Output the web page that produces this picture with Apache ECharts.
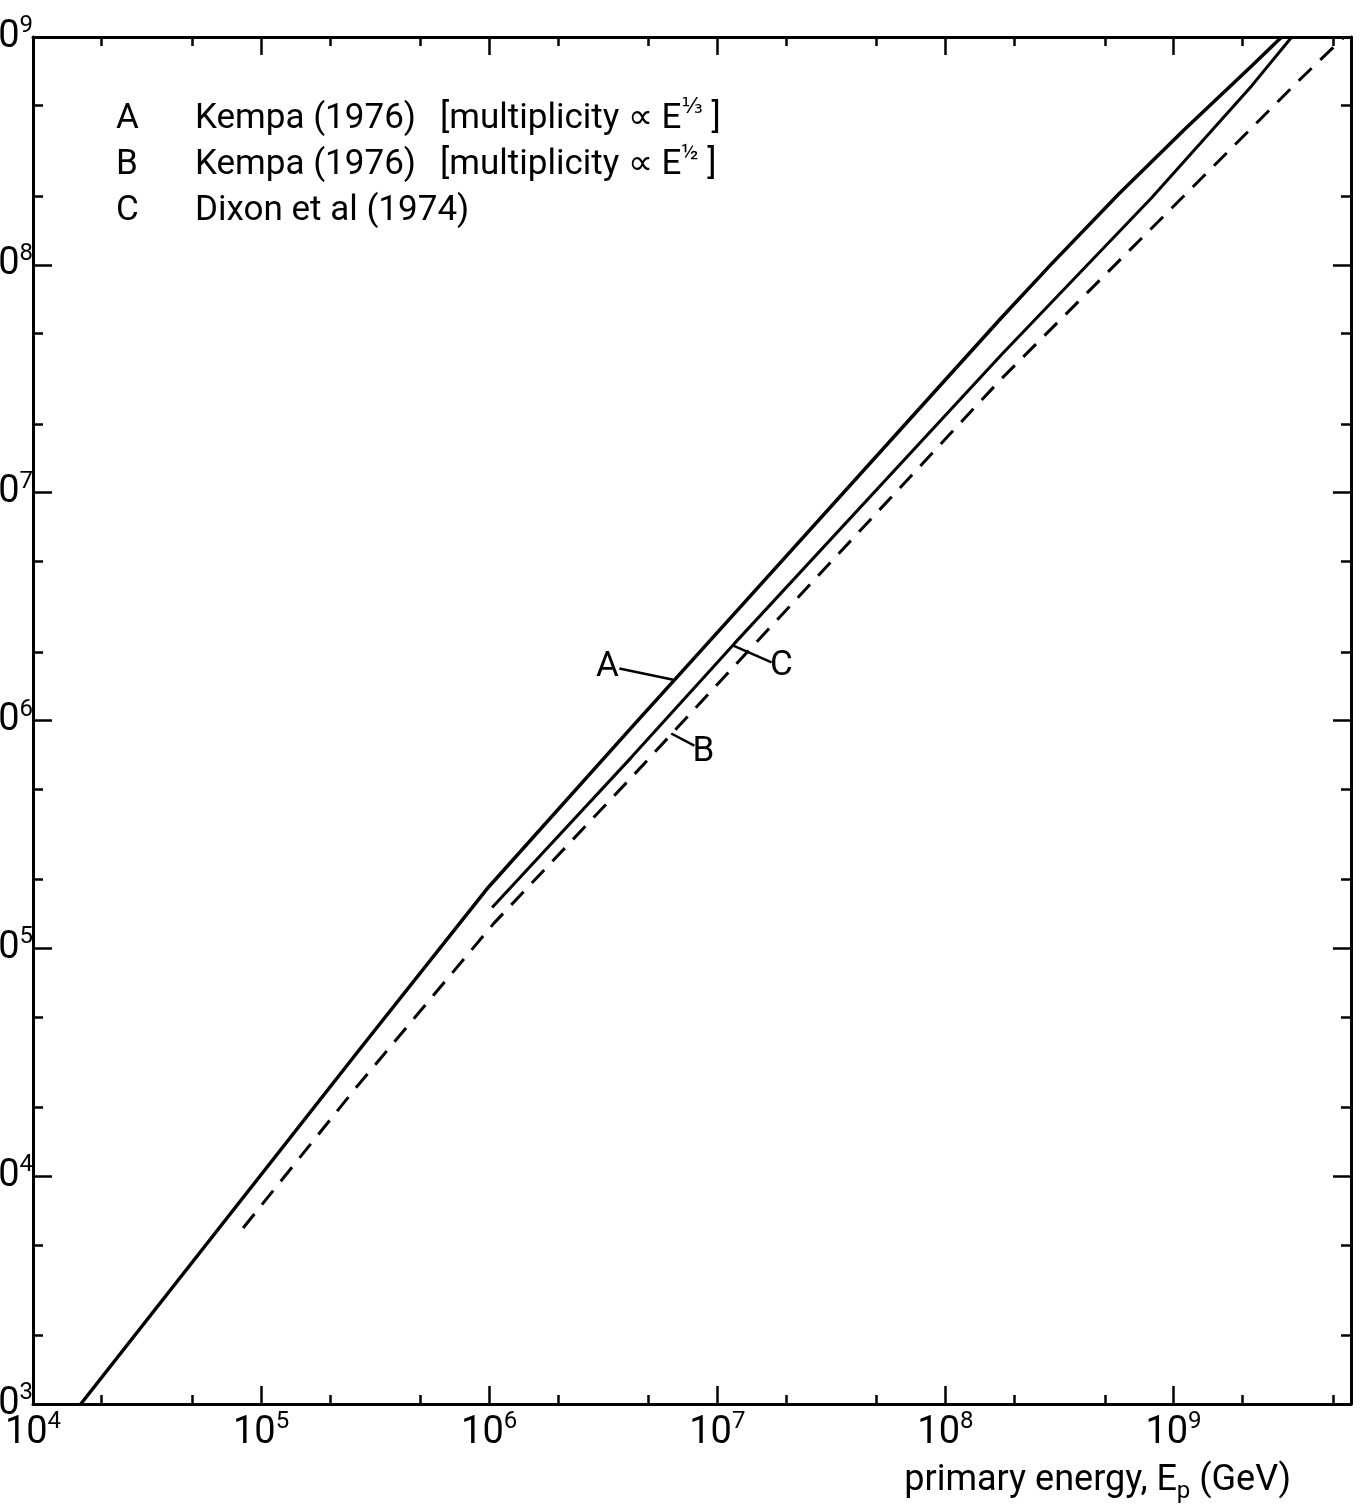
<!DOCTYPE html>
<html><head><meta charset="utf-8">
<script src="https://cdn.jsdelivr.net/npm/echarts@6/dist/echarts.min.js"></script>
<style>html,body{margin:0;padding:0;background:#fff}#c{width:1367px;height:1508px}</style>
</head><body><div id="c"></div>
<script>
// ---- data (primary energy in GeV vs. count) ----
const energyA = [1.62e4, 2.75e5, 9.9e5, 4.2e6, 8.5e6, 1.0e8, 1.76e8, 2.92e8, 5.74e8, 1.12e9, 2.2e9, 2.98e9];
const countA  = [1.0e3, 3.68e4, 1.85e5, 9.3e5, 2.03e6, 3.13e7, 5.86e7, 1.01e8, 2.04e8, 3.94e8, 7.46e8, 1.0e9];
const energyB = [8.34e4, 2.61e5, 1.05e6, 4.2e6, 1.41e7, 1.76e8, 3.64e9, 5.6e9];
const countB  = [5.92e3, 2.45e4, 1.29e5, 5.62e5, 2.09e6, 3.16e7, 6.61e8, 1.0e9];
const energyC = [1.03e6, 4.2e6, 1.19e7, 1.76e8, 8.02e8, 2.2e9, 3.3e9];
const countC  = [1.51e5, 6.89e5, 2.18e6, 4.03e7, 1.97e8, 6.1e8, 1.0e9];

const xRange = [1e4, 6e9];
const yRange = [1e3, 1e9];
const xMajorTicks = [1e4, 1e5, 1e6, 1e7, 1e8, 1e9];
const xMinorTicks = [2e4, 5e4, 2e5, 5e5, 2e6, 5e6, 2e7, 5e7, 2e8, 5e8, 2e9, 5e9];
const yMajorTicks = [1e3, 1e4, 1e5, 1e6, 1e7, 1e8, 1e9];
const yMinorTicks = [2e3, 5e3, 2e4, 5e4, 2e5, 5e5, 2e6, 5e6, 2e7, 5e7, 2e8, 5e8];

const legendKeys  = ['A', 'B', 'C'];
const legendNames = ['Kempa (1976)', 'Kempa (1976)', 'Dixon et al (1974)'];
const legendNotes = [['[multiplicity \u221D E', '\u2153', ' ]'], ['[multiplicity \u221D E', '\u00BD', ' ]'], null];

// curve labels: [label text, label position, leader start, leader end] in data units
const labelA = ['A', [3.3e6, 1.71e6], [3.72e6, 1.69e6], [6.41e6, 1.51e6]];
const labelB = ['B', [8.69e6, 7.24e5], [7.93e6, 7.76e5], [6.28e6, 8.77e5]];
const labelC = ['C', [1.91e7, 1.73e6], [1.73e7, 1.80e6], [1.175e7, 2.13e6]];

const xName = ['primary energy, E', 'p', ' (GeV)'];

// ---- build ----
const FONT = 'Roboto, "DejaVu Sans", sans-serif';
const zip = (a, b) => a.map((v, i) => [v, b[i]]);
function powLabel(v) { return '{b|10}{s|' + Math.round(Math.log10(v)) + '}'; }
const tickRich = {
  b: {fontSize: 38, fontFamily: FONT, color: '#000', lineHeight: 46},
  s: {fontSize: 24, fontFamily: FONT, color: '#000', lineHeight: 24, verticalAlign: 'top'}
};

function axis(range, position, ticks, len, withLine, withLabels, margin) {
  return {
    type: 'log', logBase: 10, min: range[0], max: range[1], position: position,
    axisLine: {show: withLine, onZero: false, lineStyle: {color: '#000', width: 3}},
    axisTick: {show: true, inside: true, length: len, customValues: ticks, lineStyle: {color: '#000', width: 2.5}},
    axisLabel: withLabels ? {show: true, customValues: ticks, margin: margin, formatter: powLabel, rich: tickRich} : {show: false},
    splitLine: {show: false}, minorTick: {show: false}, minorSplitLine: {show: false},
    axisPointer: {show: false}
  };
}

const xAxes = [
  Object.assign(axis(xRange, 'bottom', xMajorTicks, 18, true, true, 6), {
    name: '{a|' + xName[0] + '}{p|' + xName[1] + '}{a|' + xName[2] + '}',
    nameLocation: 'end', nameGap: -60,
    nameTextStyle: {align: 'right', verticalAlign: 'top', padding: [54, 0, 0, 0],
      rich: {a: {fontSize: 36, fontFamily: FONT, color: '#000', lineHeight: 46},
             p: {fontSize: 24, fontFamily: FONT, color: '#000', lineHeight: 24, verticalAlign: 'bottom'}}}
  }),
  axis(xRange, 'bottom', xMinorTicks, 9, false, false),
  axis(xRange, 'top', xMajorTicks, 18, true, false),
  axis(xRange, 'top', xMinorTicks, 9, false, false)
];
const yAxes = [
  axis(yRange, 'left', yMajorTicks, 19, true, true, 0),
  axis(yRange, 'left', yMinorTicks, 10, false, false),
  axis(yRange, 'right', yMajorTicks, 18, true, false),
  axis(yRange, 'right', yMinorTicks, 10, false, false)
];

function marks(lab) {
  return {
    markLine: {silent: true, symbol: ['none', 'none'], animation: false,
      label: {show: false}, lineStyle: {color: '#000', width: 2.5, type: 'solid'},
      emphasis: {disabled: true},
      data: [[{coord: lab[2]}, {coord: lab[3]}]]},
    markPoint: {silent: true, symbol: 'circle', symbolSize: 1, animation: false,
      itemStyle: {color: 'rgba(0,0,0,0)'},
      label: {show: true, position: 'inside', formatter: lab[0], fontSize: 35, fontFamily: FONT, color: '#000'},
      data: [{coord: lab[1]}]}
  };
}

const legendText = legendKeys.map((k, i) => {
  let s = '{k|' + k + '}{n|' + legendNames[i] + '}';
  const n = legendNotes[i];
  if (n) s += '{m|' + n[0] + '}{p|' + n[1] + '}{m|' + n[2] + '}';
  return s;
}).join('\n');

const option = {
  backgroundColor: '#fff',
  animation: false,
  grid: {left: 33, right: 16, top: 37, bottom: 104, containLabel: false, outerBoundsMode: 'none'},
  xAxis: xAxes,
  yAxis: yAxes,
  series: [
    Object.assign({name: 'A', type: 'line', data: zip(energyA, countA), showSymbol: false, symbol: 'none',
      lineStyle: {color: '#000', width: 3.5}, z: 3}, marks(labelA)),
    Object.assign({name: 'C', type: 'line', data: zip(energyC, countC), showSymbol: false, symbol: 'none',
      lineStyle: {color: '#000', width: 3}, z: 3}, marks(labelC)),
    Object.assign({name: 'B', type: 'line', data: zip(energyB, countB), showSymbol: false, symbol: 'none',
      lineStyle: {color: '#000', width: 3, type: [18, 12]}, z: 3}, marks(labelB))
  ],
  graphic: [{
    type: 'text', left: 116, top: 96, silent: true,
    style: {
      text: legendText, fill: '#000',
      rich: {
        k: {fontSize: 35, fontFamily: FONT, width: 79, lineHeight: 46, fill: '#000'},
        n: {fontSize: 35, fontFamily: FONT, width: 245, lineHeight: 46, fill: '#000'},
        m: {fontSize: 35, fontFamily: FONT, lineHeight: 46, fill: '#000'},
        p: {fontSize: 22, fontFamily: FONT, lineHeight: 26, verticalAlign: 'top', fill: '#000'}
      }
    }
  }]
};

const chart = echarts.init(document.getElementById('c'), null, {renderer: 'canvas'});
chart.setOption(option);
</script>
</body></html>
